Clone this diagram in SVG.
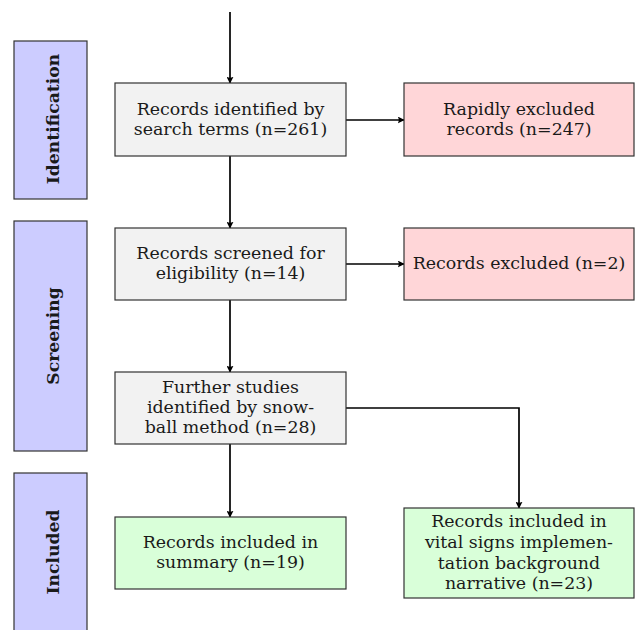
<svg xmlns="http://www.w3.org/2000/svg" width="636" height="630" viewBox="0 0 636 630">
<defs>
<style>
.box{stroke:#333;stroke-width:1.2}
.grey{fill:#f2f2f2}
.pink{fill:#ffd6d8}
.green{fill:#d9ffd9}
.blue{fill:#ccccff}
text{font-family:"DejaVu Serif","Liberation Serif",serif;font-size:17.4px;fill:#1a1a1a;text-anchor:middle}
.stage{font-weight:bold;font-size:17.2px}
.conn{fill:none;stroke:#000;stroke-width:1.7}
</style>
<marker id="arr" viewBox="0 0 10 10" refX="9" refY="5" markerWidth="7" markerHeight="7" markerUnits="userSpaceOnUse" orient="auto">
<path d="M0,0 Q3,5 0,10 L10,5 Z" fill="#000"/>
</marker>
</defs>
<g id="stage-identification">
<rect class="box blue" x="14" y="41" width="73" height="158"/>
<text class="stage" transform="translate(59,119) rotate(-90)">Identification</text>
</g>
<g id="stage-screening">
<rect class="box blue" x="14" y="221" width="73" height="230"/>
<text class="stage" transform="translate(59,336) rotate(-90)">Screening</text>
</g>
<g id="stage-included">
<rect class="box blue" x="14" y="473" width="73" height="170"/>
<text class="stage" transform="translate(59,552) rotate(-90)">Included</text>
</g>
<g id="connectors">
<path class="conn" marker-end="url(#arr)" d="M230,12 V83"/>
<path class="conn" marker-end="url(#arr)" d="M230,156 V228"/>
<path class="conn" marker-end="url(#arr)" d="M346,120 H404"/>
<path class="conn" marker-end="url(#arr)" d="M230,300 V372"/>
<path class="conn" marker-end="url(#arr)" d="M346,264 H404"/>
<path class="conn" marker-end="url(#arr)" d="M230,444 V517"/>
<path class="conn" marker-end="url(#arr)" d="M346,408 H519 V508"/>
</g>
<g id="node-identified">
<rect class="box grey" x="115" y="83" width="231" height="73"/>
<text x="230.5" y="115">Records identified by</text>
<text x="230.5" y="135">search terms (n=261)</text>
</g>
<g id="node-rapidly-excluded">
<rect class="box pink" x="404" y="83" width="230" height="73"/>
<text x="519" y="115">Rapidly excluded</text>
<text x="519" y="135">records (n=247)</text>
</g>
<g id="node-screened">
<rect class="box grey" x="115" y="228" width="231" height="72"/>
<text x="230.5" y="259">Records screened for</text>
<text x="230.5" y="279">eligibility (n=14)</text>
</g>
<g id="node-excluded">
<rect class="box pink" x="404" y="228" width="230" height="72"/>
<text x="519" y="269">Records excluded (n=2)</text>
</g>
<g id="node-snowball">
<rect class="box grey" x="115" y="372" width="231" height="72"/>
<text x="230.5" y="393">Further studies</text>
<text x="230.5" y="413">identified by snow-</text>
<text x="230.5" y="433">ball method (n=28)</text>
</g>
<g id="node-summary">
<rect class="box green" x="115" y="517" width="231" height="72"/>
<text x="230.5" y="548">Records included in</text>
<text x="230.5" y="568">summary (n=19)</text>
</g>
<g id="node-background">
<rect class="box green" x="404" y="508" width="230" height="90"/>
<text x="519" y="527">Records included in</text>
<text x="519" y="548">vital signs implemen-</text>
<text x="519" y="569">tation background</text>
<text x="519" y="589">narrative (n=23)</text>
</g>
</svg>
